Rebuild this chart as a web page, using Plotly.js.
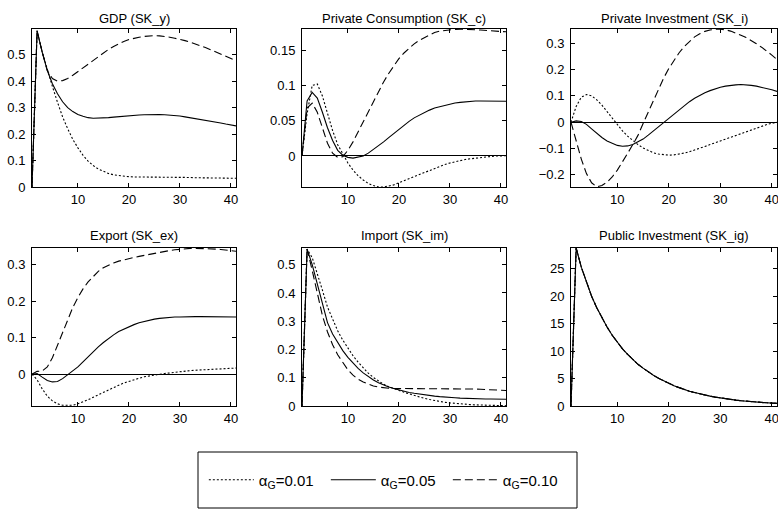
<!DOCTYPE html>
<html><head><meta charset="utf-8">
<script src="https://cdn.plot.ly/plotly-3.0.1.min.js"></script>
<style>html,body{margin:0;padding:0;background:#fff}</style>
</head><body><div id="chart" style="width:778px;height:509px"></div>
<script>
// ---- data ----
const periods = [1,2,3,4,5,6,7,8,9,10,11,12,13,14,15,16,17,18,19,20,21,22,23,24,25,26,27,28,29,30,31,32,33,34,35,36,37,38,39,40,41];
const seriesNames = ['α<sub>G</sub>=0.01', 'α<sub>G</sub>=0.05', 'α<sub>G</sub>=0.10'];
const panelTitles = ['GDP (SK_y)', 'Private Consumption (SK_c)', 'Private Investment (SK_i)', 'Export (SK_ex)', 'Import (SK_im)', 'Public Investment (SK_ig)'];

const gdp_a01 = [0,.59,.51,.44,.38,.32,.265,.22,.18,.148,.12,.098,.081,.068,.058,.051,.046,.043,.041,.039,.038,.038,.037,.037,.037,.037,.037,.036,.036,.036,.036,.036,.035,.035,.035,.035,.034,.034,.034,.034,.033];
const gdp_a05 = [0,.59,.51,.44,.39,.352,.322,.30,.285,.274,.267,.262,.26,.26,.261,.262,.264,.266,.268,.27,.271,.272,.273,.274,.274,.274,.273,.272,.27,.268,.265,.262,.259,.256,.252,.249,.245,.242,.238,.234,.231];
const gdp_a10 = [0,.59,.51,.44,.41,.40,.402,.41,.422,.436,.451,.466,.481,.495,.508,.52,.531,.541,.55,.557,.562,.566,.569,.571,.572,.571,.569,.566,.562,.558,.553,.547,.541,.534,.527,.519,.511,.503,.495,.486,.477];

const cons_a01 = [0,.06,.1,.102,.085,.06,.036,.016,.002,-.01,-.02,-.028,-.034,-.039,-.042,-.044,-.044,-.043,-.041,-.038,-.035,-.032,-.029,-.026,-.023,-.02,-.017,-.015,-.012,-.01,-.008,-.006,-.005,-.004,-.003,-.002,-.001,-.0005,0,0,.0005];
const cons_a05 = [0,.078,.09,.082,.062,.04,.022,.008,.001,-.002,-.003,-.002,0,.004,.009,.014,.02,.026,.032,.038,.044,.049,.054,.058,.062,.065,.068,.07,.072,.074,.075,.076,.077,.0775,.078,.078,.078,.078,.078,.078,.0775];
const cons_a10 = [0,.068,.075,.062,.04,.018,.004,-.002,-.001,.008,.02,.034,.048,.063,.078,.092,.105,.117,.128,.138,.146,.153,.159,.164,.168,.172,.175,.177,.178,.179,.1795,.1797,.1797,.1795,.179,.1785,.178,.1775,.177,.1765,.176];

const inv_a01 = [0,.06,.095,.105,.10,.085,.065,.04,.015,-.01,-.033,-.053,-.07,-.085,-.098,-.108,-.116,-.121,-.124,-.125,-.124,-.121,-.117,-.112,-.106,-.099,-.092,-.085,-.078,-.071,-.063,-.056,-.049,-.042,-.035,-.028,-.021,-.015,-.009,-.004,0];
const inv_a05 = [0,.005,.003,-.008,-.025,-.042,-.058,-.071,-.081,-.088,-.091,-.09,-.085,-.076,-.064,-.049,-.033,-.017,0,.017,.033,.049,.064,.078,.091,.102,.112,.12,.127,.133,.137,.14,.142,.143,.142,.14,.137,.133,.128,.123,.117];
const inv_a10 = [0,-.07,-.14,-.195,-.23,-.245,-.24,-.228,-.208,-.182,-.152,-.118,-.085,-.05,-.005,.04,.085,.128,.168,.204,.236,.264,.288,.308,.324,.336,.345,.35,.353,.353,.351,.346,.339,.33,.322,.311,.298,.285,.271,.255,.238];

const exp_a01 = [0,-.015,-.04,-.06,-.073,-.081,-.085,-.086,-.085,-.081,-.076,-.07,-.063,-.056,-.049,-.042,-.036,-.03,-.024,-.019,-.015,-.011,-.007,-.004,-.002,0,.002,.004,.006,.007,.009,.01,.011,.012,.013,.014,.015,.015,.016,.016,.017];
const exp_a05 = [0,.002,-.008,-.017,-.021,-.02,-.012,-.002,.008,.02,.034,.048,.062,.075,.087,.098,.108,.117,.124,.131,.136,.141,.145,.148,.151,.153,.155,.156,.157,.157,.158,.158,.158,.158,.158,.158,.158,.158,.158,.157,.157];
const exp_a10 = [0,.008,.009,.02,.045,.08,.115,.152,.183,.21,.234,.253,.269,.282,.292,.299,.305,.31,.314,.317,.32,.323,.326,.329,.332,.335,.337,.339,.341,.343,.344,.345,.345,.345,.345,.344,.343,.342,.34,.339,.337];

const imp_a01 = [0,.555,.525,.47,.41,.35,.305,.266,.233,.205,.178,.155,.134,.116,.101,.088,.077,.068,.061,.055,.049,.043,.037,.032,.027,.023,.019,.016,.013,.011,.009,.007,.006,.005,.004,.003,.003,.002,.002,.002,.001];
const imp_a05 = [0,.555,.5,.43,.355,.295,.255,.223,.196,.172,.151,.133,.117,.103,.092,.082,.074,.067,.062,.057,.052,.048,.045,.042,.039,.037,.035,.033,.031,.03,.029,.028,.027,.027,.026,.026,.025,.025,.025,.024,.024];
const imp_a10 = [0,.555,.48,.395,.32,.262,.217,.181,.152,.128,.109,.095,.085,.077,.071,.067,.064,.063,.062,.062,.062,.062,.062,.062,.062,.062,.062,.062,.062,.062,.061,.061,.061,.06,.06,.059,.058,.057,.056,.056,.055];

const pubinv_a01 = [0,28.8,25.3,22.5,20.0,17.9,16.0,14.4,12.9,11.6,10.4,9.4,8.5,7.6,6.9,6.2,5.6,5.05,4.55,4.1,3.7,3.35,3.0,2.7,2.45,2.2,2.0,1.8,1.62,1.46,1.32,1.19,1.07,0.97,0.87,0.79,0.71,0.64,0.58,0.52,0.47];
const pubinv_a05 = pubinv_a01;
const pubinv_a10 = pubinv_a01;

const xTickVals = [10,20,30,40];
const yTicks = [
  {vals:[0,0.1,0.2,0.3,0.4,0.5], text:['0','0.1','0.2','0.3','0.4','0.5'], range:[0,0.597]},
  {vals:[0,0.05,0.1,0.15], text:['0','0.05','0.1','0.15'], range:[-0.044,0.18]},
  {vals:[-0.2,-0.1,0,0.1,0.2,0.3], text:['\u22120.2','\u22120.1','0','0.1','0.2','0.3'], range:[-0.246,0.354]},
  {vals:[0,0.1,0.2,0.3], text:['0','0.1','0.2','0.3'], range:[-0.087,0.346]},
  {vals:[0,0.1,0.2,0.3,0.4,0.5], text:['0','0.1','0.2','0.3','0.4','0.5'], range:[0,0.559]},
  {vals:[0,5,10,15,20,25], text:['0','5','10','15','20','25'], range:[0,28.8]}
];
const panels = [
  [gdp_a01, gdp_a05, gdp_a10],
  [cons_a01, cons_a05, cons_a10],
  [inv_a01, inv_a05, inv_a10],
  [exp_a01, exp_a05, exp_a10],
  [imp_a01, imp_a05, imp_a10],
  [pubinv_a01, pubinv_a05, pubinv_a10]
];
const showZero = [false, true, true, true, false, false];

// ---- layout ----
const W = 778, H = 509;
const colPx = [[32,236],[302,506],[571,777]];
const rowPx = [[29,187],[248,406]];
const titleY = [18, 235];
const FONT = 'Liberation Sans, Arial, Helvetica, sans-serif';
const dashes = ['2px,2px', 'solid', '8px,4px'];

const traces = [];
const layout = {
  width: W, height: H, margin: {l:0,r:0,t:0,b:0},
  paper_bgcolor: '#fff', plot_bgcolor: '#fff',
  font: {family: FONT, size: 13, color: '#000'},
  showlegend: true,
  legend: {orientation:'h', x: 0.262, xanchor:'left', y: 1-480/H, yanchor:'middle',
           bgcolor:'rgba(0,0,0,0)', borderwidth:0, font:{family:FONT,size:15,color:'#000'},
           itemwidth: 45, entrywidth: 62, entrywidthmode:'pixels', itemclick:false, itemdoubleclick:false},
  annotations: [], shapes: []
};

panels.forEach((ser, i) => {
  const r = Math.floor(i/3), c = i%3;
  const n = i+1;
  const xa = 'xaxis' + (n===1?'':n), ya = 'yaxis' + (n===1?'':n);
  const xr = 'x' + (n===1?'':n), yr = 'y' + (n===1?'':n);
  const common = {showline:true, mirror:'ticks', linecolor:'#000', linewidth:1, ticks:'inside', ticklen:4,
    tickcolor:'#000', tickwidth:1, showgrid:false, fixedrange:true, ticklabeloverflow:'allow',
    tickfont:{family:FONT,size:13,color:'#000'}};
  layout[xa] = Object.assign({}, common, {domain:[colPx[c][0]/W, colPx[c][1]/W], anchor: yr,
    range:[1,41], tickvals:xTickVals, ticktext:xTickVals.map(String), zeroline:false});
  layout[ya] = Object.assign({}, common, {domain:[1-rowPx[r][1]/H, 1-rowPx[r][0]/H], anchor: xr,
    range: yTicks[i].range, tickvals: yTicks[i].vals, ticktext: yTicks[i].text,
    zeroline: showZero[i], zerolinecolor:'#000', zerolinewidth:1, ticklabelstandoff: 3});
  ser.forEach((y, k) => {
    traces.push({x: periods, y: y, xaxis: xr, yaxis: yr, type:'scatter', mode:'lines',
      name: seriesNames[k], showlegend: i===0, cliponaxis: true,
      line: {color:'#000', width: 1.1, dash: dashes[k]}, hoverinfo:'skip'});
  });
  layout.annotations.push({text: panelTitles[i], xref:'paper', yref:'paper',
    x: (colPx[c][0]+colPx[c][1])/2/W, y: 1-titleY[r]/H, xanchor:'center', yanchor:'middle',
    showarrow:false, font:{family:FONT, size:13, color:'#000'}});
});

layout.shapes.push({type:'rect', xref:'paper', yref:'paper', x0:198/W, x1:577/W, y0:1-508/H, y1:1-452/H,
  line:{color:'#000', width:1}, fillcolor:'rgba(0,0,0,0)'});

Plotly.newPlot('chart', traces, layout, {staticPlot:true, displayModeBar:false});
</script></body></html>
